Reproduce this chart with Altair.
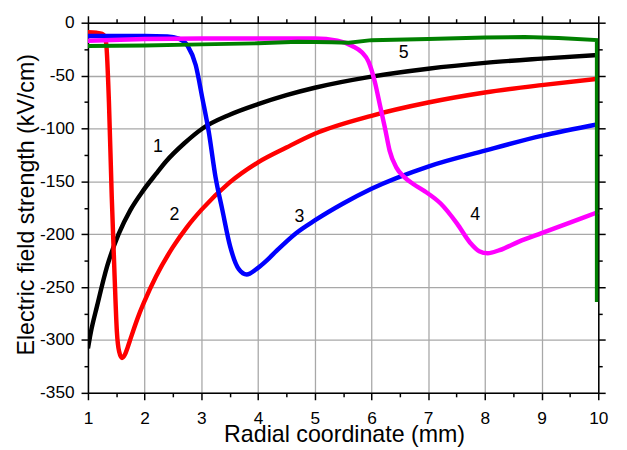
import altair as alt
import pandas as pd

# ---- data ----
r1 = [1.0, 1.05, 1.16, 1.34, 1.54, 1.75, 1.97, 2.2, 2.38, 2.7, 3.02, 3.5, 4.0, 4.5, 5.0, 6.0, 7.0, 8.0, 9.0, 10.0]
e1 = [-308, -293, -268, -230, -200, -177, -159, -143, -131, -114, -100, -87, -77, -68.5, -61.5, -51, -43.5, -38, -34, -30.5]

r2 = [1.0, 1.15, 1.25, 1.3, 1.33, 1.37, 1.42, 1.47, 1.51, 1.55, 1.6, 1.65, 1.7, 1.75, 1.8, 1.9, 2.0, 2.2, 2.5, 2.75, 3.0, 3.5, 4.0, 4.5, 5.0, 6.0, 7.0, 8.0, 9.0, 10.0]
e2 = [-9, -9.5, -10.5, -13, -25, -75, -165, -240, -292, -311, -317, -314, -307, -299, -291, -276, -263, -240, -212, -193, -177, -151, -132, -118, -105, -88, -75.5, -66, -59, -53]

r3 = [1.0, 1.5, 2.0, 2.4, 2.6, 2.76, 2.9, 3.02, 3.13, 3.25, 3.37, 3.51, 3.66, 3.8, 3.97, 4.15, 4.32, 4.67, 5.0, 5.5, 6.0, 7.0, 8.0, 9.0, 10.0]
e3 = [-12.5, -12.5, -12.5, -13, -15, -22, -40, -72, -103, -146, -177, -212, -233, -238, -233, -225, -216, -199, -187, -171, -157, -136, -121, -107, -96]

r4 = [1.0, 2.0, 3.0, 4.0, 5.0, 5.4, 5.66, 5.83, 5.95, 6.06, 6.15, 6.24, 6.32, 6.44, 6.58, 6.75, 6.93, 7.22, 7.51, 7.74, 7.9, 8.05, 8.26, 8.6, 9.0, 9.5, 10.0]
e4 = [-17, -15.5, -15, -15, -15, -17, -22, -28, -37, -56, -78, -100, -121, -137, -146, -153, -159, -171, -190, -208, -216, -218, -215, -207, -199, -189, -179]

r5 = [1.0, 2.0, 3.0, 4.0, 4.7, 5.3, 5.6, 6.0, 7.0, 8.0, 8.7, 9.3, 9.975, 9.975]
e5 = [-22, -21.5, -20.5, -19.5, -18, -18.5, -19, -16.5, -15.5, -14, -13.5, -14.5, -16.5, -264]

curve_names = ["1", "2", "3", "4", "5"]
curve_colors = ["#000000", "#ff0000", "#0000ff", "#ff00ff", "#008000"]

label_text = ["1", "2", "3", "4", "5"]
label_r = [2.235, 2.526, 4.73, 7.83, 6.57]
label_e = [-118, -182, -183.5, -182, -28.5]

x_ticks = [1 + 0.5 * i for i in range(19)]
y_ticks = [-350 + 25 * i for i in range(15)]

rows = []
for name, rs, es in zip(curve_names, [r1, r2, r3, r4, r5], [e1, e2, e3, e4, e5]):
    for i, (r, e) in enumerate(zip(rs, es)):
        rows.append({"curve": name, "r": r, "E": e, "i": i})
df = pd.DataFrame(rows)
labels_df = pd.DataFrame({"t": label_text, "r": label_r, "E": label_e})

FONT = "Liberation Sans"
xscale = alt.Scale(domain=[1, 10], nice=False, zero=False)
yscale = alt.Scale(domain=[-350, 0], nice=False, zero=False)
xmaj = "datum.value % 1 === 0"
ymaj = "datum.value % 50 === 0"

common = dict(domainColor="black", domainWidth=1.5, tickColor="black", tickWidth=1.5,
              labelFont=FONT, labelColor="black", labelFontSize=17.5,
              titleFont=FONT, titleColor="black", titleFontSize=23.5, titleFontWeight="normal",
              labelOverlap=False, labelFlush=False)

x_bottom = alt.Axis(values=x_ticks, orient="bottom", title="Radial coordinate (mm)",
                    tickSize={"condition": {"test": xmaj, "value": 7}, "value": 4},
                    gridOpacity={"condition": {"test": xmaj, "value": 1}, "value": 0},
                    grid=True, gridColor="#a8a8a8", gridWidth=1.3,
                    labelExpr="datum.value % 1 === 0 ? toString(datum.value) : ''",
                    labelPadding=10, titleX=259.5, titleY=49.5, titleBaseline="alphabetic",
                    titleAnchor="middle", **common)
y_left = alt.Axis(values=y_ticks, orient="left", title="Electric field strength (kV/cm)",
                  tickSize={"condition": {"test": ymaj, "value": 7}, "value": 4},
                  gridOpacity={"condition": {"test": ymaj, "value": 1}, "value": 0},
                  grid=True, gridColor="#a8a8a8", gridWidth=1.3,
                  labelExpr="datum.value % 50 === 0 ? toString(datum.value) : ''",
                  labelPadding=7, titleX=-62, titleY=184, titleBaseline="middle",
                  titleAngle=270, **common)
x_top = alt.Axis(values=x_ticks, orient="top", title=None, labels=False, grid=False,
                 tickSize={"condition": {"test": xmaj, "value": 7}, "value": 4},
                 domainColor="black", domainWidth=1.5, tickColor="black", tickWidth=1.5)
y_right = alt.Axis(values=y_ticks, orient="right", title=None, labels=False, grid=False,
                   tickSize={"condition": {"test": ymaj, "value": 7}, "value": 4},
                   domainColor="black", domainWidth=1.5, tickColor="black", tickWidth=1.5)

color = alt.Color("curve:N", scale=alt.Scale(domain=curve_names, range=curve_colors), legend=None)

smooth = alt.Chart(df).transform_filter("datum.curve !== '5'").mark_line(
    strokeWidth=4.5, interpolate="monotone", clip=True
).encode(
    x=alt.X("r:Q", scale=xscale, axis=x_bottom),
    y=alt.Y("E:Q", scale=yscale, axis=y_left),
    color=color,
    order="i:Q",
)

green = alt.Chart(df).transform_filter("datum.curve === '5'").mark_line(
    strokeWidth=4, interpolate="linear", clip=True
).encode(
    x=alt.X("r:Q", scale=xscale, axis=None),
    y=alt.Y("E:Q", scale=yscale, axis=None),
    color=color,
    order="i:Q",
)

texts = alt.Chart(labels_df).mark_text(font=FONT, fontSize=18, color="black",
                                       align="center", baseline="middle").encode(
    x=alt.X("r:Q", scale=xscale, axis=x_top),
    y=alt.Y("E:Q", scale=yscale, axis=y_right),
    text="t:N",
)

chart = alt.layer(smooth, green, texts).resolve_axis(
    x="independent", y="independent"
).properties(
    width=517, height=375,
    padding={"left": 81, "top": 12, "right": 21, "bottom": 55},
    autosize=alt.AutoSizeParams(type="none"),
).configure_view(stroke=None).configure(background="white")

chart.save("out.html", embed_options={"renderer": "svg", "actions": False})
